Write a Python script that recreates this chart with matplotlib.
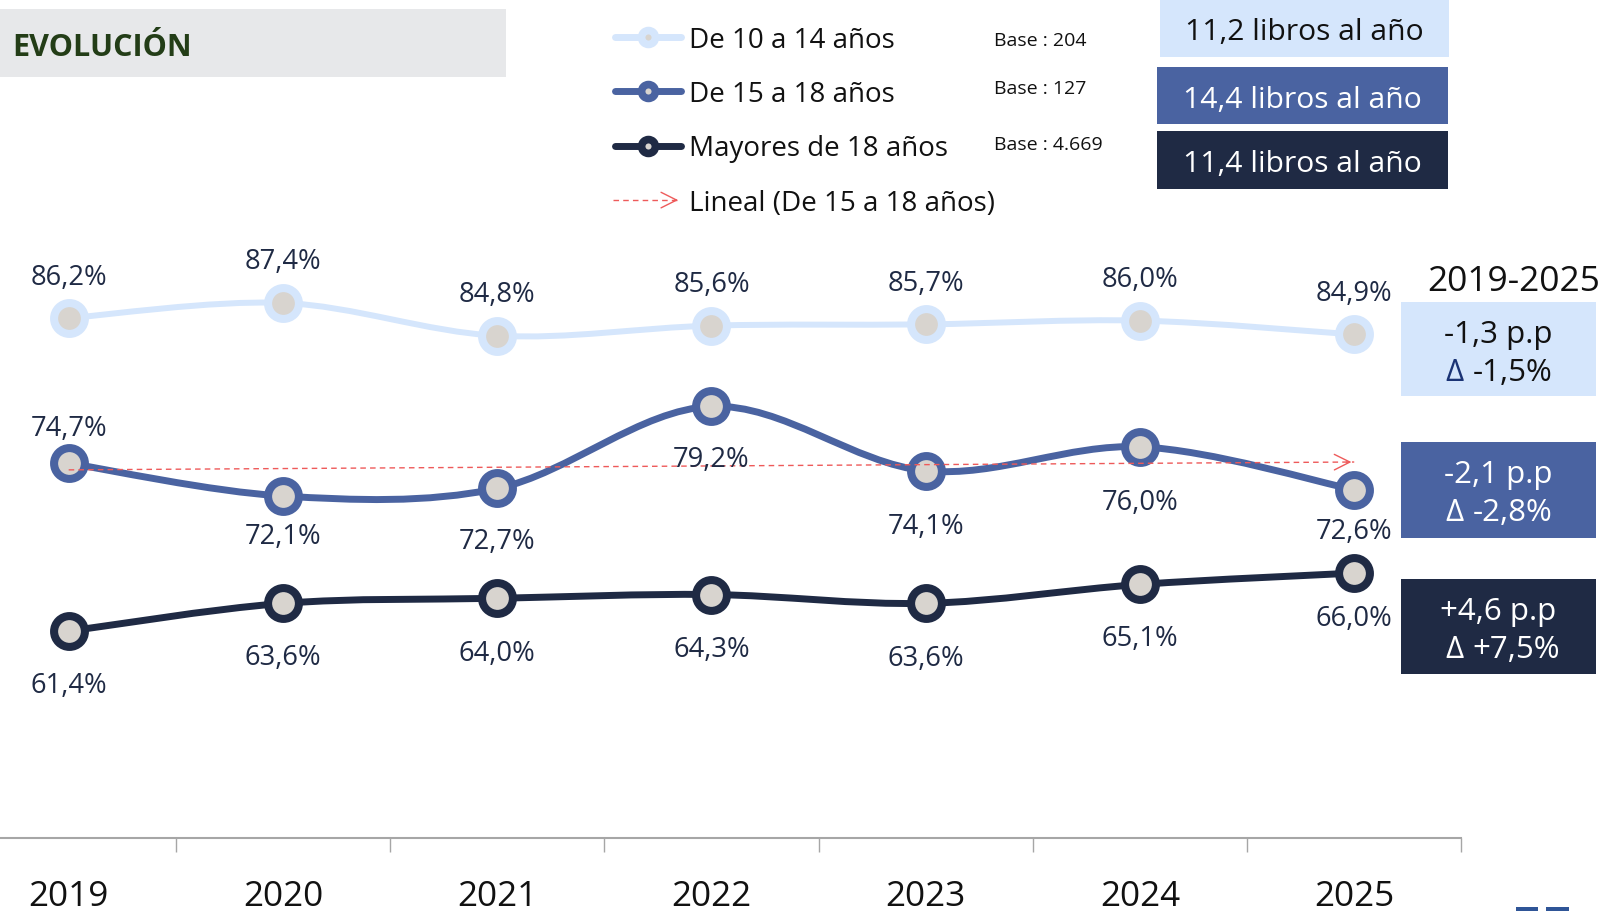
import numpy as np
import matplotlib
matplotlib.use("Agg")
import matplotlib.pyplot as plt
import matplotlib.patches as patches
from matplotlib.path import Path
from matplotlib.lines import Line2D

plt.rcParams['font.family'] = ['Open Sans', 'DejaVu Sans']

# --- data ---
years = ['2019', '2020', '2021', '2022', '2023', '2024', '2025']
ninos_10_14 = [86.2, 87.4, 84.8, 85.6, 85.7, 86.0, 84.9]
jovenes_15_18 = [74.7, 72.1, 72.7, 79.2, 74.1, 76.0, 72.6]
mayores_18 = [61.4, 63.6, 64.0, 64.3, 63.6, 65.1, 66.0]

series_names = ['De 10 a 14 años', 'De 15 a 18 años', 'Mayores de 18 años']
trend_name = 'Lineal (De 15 a 18 años)'
bases = ['Base : 204', 'Base : 127', 'Base : 4.669']
libros = ['11,2 libros al año', '14,4 libros al año', '11,4 libros al año']
cambio_pp = ['-1,3 p.p', '-2,1 p.p', '+4,6 p.p']
cambio_rel = ['-1,5%', '-2,8%', '+7,5%']

LIGHT = '#D5E6FC'
MID = '#4A63A1'
DARK = '#1F2A44'
FACE = '#D8D4CF'
LABEL_C = '#1F2A44'
RED = '#EE5A5A'

W, H = 1568.0, 889.0  # layout measured on the shrunk reference
DY = 2.5  # Open Sans sits a little high when centred


def fx(x):
    return x / W


def fy(y):
    return 1 - y / H


def pt(px):
    # shrunk-reference pixels -> points
    return px * (1608 / 1568) * 0.72


def smooth_path(xs, ys):
    p = np.column_stack([xs, ys]).astype(float)
    n = len(p)
    verts = [p[0]]
    codes = [Path.MOVETO]
    for i in range(n - 1):
        p0 = p[i - 1] if i > 0 else p[i]
        p1, p2 = p[i], p[i + 1]
        p3 = p[i + 2] if i + 2 < n else p[i + 1]
        verts += [p1 + (p2 - p0) / 6, p2 - (p3 - p1) / 6, p2]
        codes += [Path.CURVE4] * 3
    return Path(verts, codes)


def ftext(x, y, s, **kw):
    fig.text(fx(x), fy(y + DY), s, va='center', **kw)


fig = plt.figure(figsize=(16.08, 9.12), dpi=100)

# --- main axes ---
ax = fig.add_axes([fx(-37.5), fy(818), fx(1425 + 37.5), fy(141.2) - fy(818)])
ax.set_xlim(-0.5, 6.5)
ax.set_ylim(45, 100)
for s in ['top', 'right', 'left']:
    ax.spines[s].set_visible(False)
ax.spines['bottom'].set_color('#A6A6A6')
ax.spines['bottom'].set_linewidth(1.5)
ax.set_yticks([])
x = np.arange(len(years))
ax.set_xticks(x)
ax.set_xticklabels(years, fontsize=25.3, color='#111111')
ax.set_xticks(np.arange(-0.5, 7, 1), minor=True)
ax.tick_params(axis='x', which='major', length=0, pad=29.5)
ax.tick_params(axis='x', which='minor', length=10, color='#A6A6A6', width=1)

series = [ninos_10_14, jovenes_15_18, mayores_18]
colors = [LIGHT, MID, DARK]
line_w = [4.3, 5.0, 5.0]
# label offsets (shrunk px, + above / - below)
offsets = [[43] * 7,
           [37, -36, -49, -49, -51, -51, -38],
           [-50, -50, -51, -51, -51, -50, -41]]

for vals, col, lw, offs in zip(series, colors, line_w, offsets):
    ax.add_patch(patches.PathPatch(smooth_path(x, vals), facecolor='none', edgecolor=col,
                                   lw=lw, capstyle='round', zorder=3))
    ax.plot(x, vals, 'o', ms=22.2, mfc=FACE, mec=col, mew=5.8, zorder=4)
    for xi, v, o in zip(x, vals, offs):
        ax.annotate(f"{v:.1f}%".replace('.', ','), (xi, v), xytext=(0, pt(o - DY)),
                    textcoords='offset points', ha='center', va='center',
                    fontsize=19.7, color=LABEL_C, zorder=6)

# linear trend for 15-18
coef = np.polyfit(x, jovenes_15_18, 1)
trend = np.polyval(coef, x)
ax.plot(x, trend, ls=(0, (4, 3)), color=RED, lw=1, zorder=5)
ax.annotate('', xy=(x[-1], trend[-1]), xytext=(x[-1] - 0.05, np.polyval(coef, x[-1] - 0.05)),
            arrowprops=dict(arrowstyle='->', color=RED, lw=1, mutation_scale=28), zorder=5)

# --- title box ---
fig.add_artist(patches.Rectangle((fx(0), fy(76)), fx(493), fy(10) - fy(76),
                                 transform=fig.transFigure, facecolor='#E7E8EA', edgecolor='none'))
ftext(12, 44, 'EVOLUCIÓN', fontsize=22, fontweight='bold', color='#233D17', ha='left')

# --- legend ---
leg_y = [37, 90, 143]
for yy, col, name in zip(leg_y, colors, series_names):
    fig.add_artist(Line2D([fx(600), fx(664)], [fy(yy), fy(yy)], transform=fig.transFigure,
                          color=col, lw=5, solid_capstyle='round'))
    fig.add_artist(Line2D([fx(632)], [fy(yy)], transform=fig.transFigure, marker='o',
                          ms=10, mfc=FACE, mec=col, mew=5.5))
    ftext(672, yy, name, fontsize=20, color='#111111', ha='left')
base_y = [37, 84, 139]
for yy, base in zip(base_y, bases):
    ftext(969, yy, base, fontsize=14, color='#111111', ha='left')
fig.add_artist(Line2D([fx(598), fx(660)], [fy(196), fy(196)], transform=fig.transFigure,
                      color=RED, lw=1, ls=(0, (4, 3))))
fig.add_artist(patches.FancyArrowPatch((fx(655), fy(196)), (fx(664), fy(196)),
                                       transform=fig.transFigure, arrowstyle='->',
                                       color=RED, lw=1, mutation_scale=28))
ftext(672, 196, trend_name, fontsize=20, color='#111111', ha='left')


def box(x0, y0, x1, y1, fc):
    fig.add_artist(patches.Rectangle((fx(x0), fy(y1)), fx(x1 - x0), fy(y0) - fy(y1),
                                     transform=fig.transFigure, facecolor=fc, edgecolor='none'))


# --- books per year boxes ---
book_boxes = [(1131, 0, 1413, 57), (1128, 66, 1412, 122), (1128, 129, 1412, 185)]
text_cols = ['#111111', 'white', 'white']
for (x0, y0, x1, y1), col, tc, txt in zip(book_boxes, colors, text_cols, libros):
    box(x0, y0, x1, y1, col)
    ftext((x0 + x1) / 2, (y0 + y1) / 2 + 1, txt, fontsize=21.6, color=tc, ha='center')

# --- 2019-2025 change boxes ---
ftext(1476, 272, '2019-2025', fontsize=25.5, color='#111111', ha='center')
chg_boxes = [(1366, 295, 1556, 387), (1366, 432, 1556, 525), (1366, 565, 1556, 658)]
delta_cols = ['#1A3375', 'white', 'white']
for (x0, y0, x1, y1), col, tc, dc, a, b in zip(chg_boxes, colors, text_cols, delta_cols,
                                               cambio_pp, cambio_rel):
    box(x0, y0, x1, y1, col)
    cx = (x0 + x1) / 2
    ftext(cx, y0 + 29, a, fontsize=22.5, color=tc, ha='center')
    ftext(cx - 43, y0 + 66, 'Δ', fontsize=22.5, color=dc, ha='center')
    ftext(cx - 25, y0 + 66, b, fontsize=22.5, color=tc, ha='left')

# cut-off logo at bottom right
box(1478, 885, 1500, 889, '#2F5597')
box(1508, 885, 1530, 889, '#2F5597')

fig.savefig('out.png', dpi=100)
